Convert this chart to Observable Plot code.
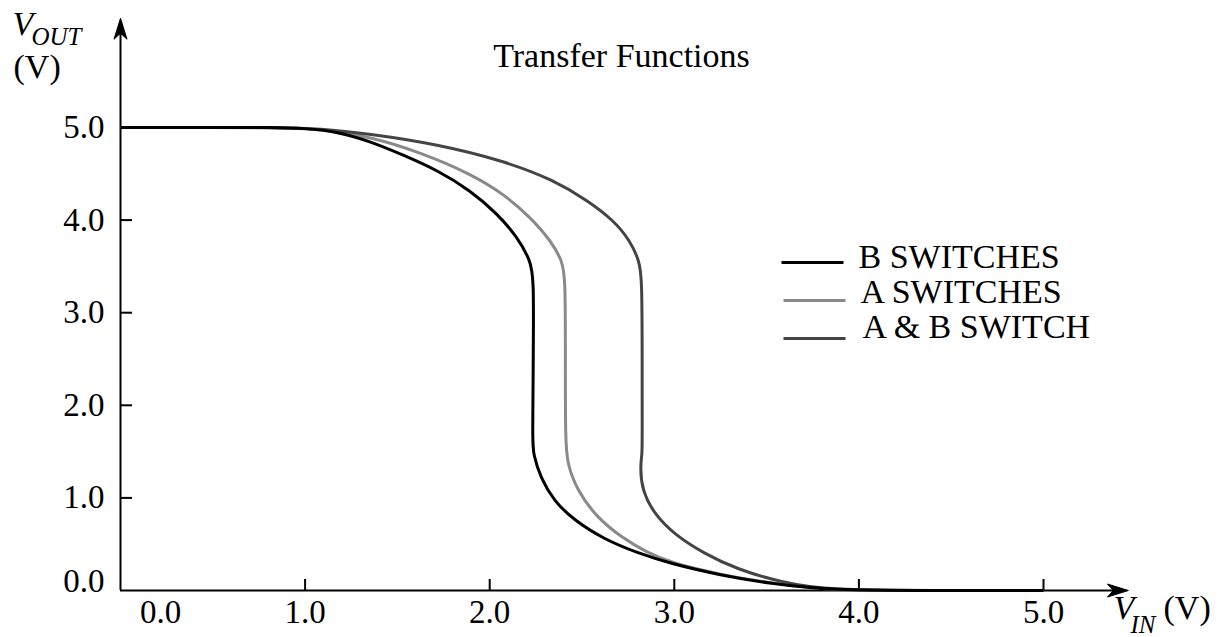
<!DOCTYPE html>
<html>
<head>
<meta charset="utf-8">
<script src="https://cdn.jsdelivr.net/npm/d3@7"></script>
<script src="https://cdn.jsdelivr.net/npm/@observablehq/plot@0.6"></script>
<style>
  html, body { margin: 0; padding: 0; background: #fff; }
</style>
</head>
<body>
<div id="chart"></div>
<script>
// NAND gate voltage transfer curves: output voltage against input voltage
const series = ["B SWITCHES", "A SWITCHES", "A & B SWITCH"];
const seriesColors = ["#000000", "#8a8a8a", "#444444"];

// B switches
const bVin  = [0, 0.5, 0.82, 1.0, 1.174, 1.354, 1.535, 1.715, 1.896, 2.04, 2.149, 2.221, 2.239, 2.236, 2.232, 2.235, 2.275, 2.347, 2.456, 2.618, 2.80, 2.98, 3.25, 3.52, 3.846, 4.4, 5.0];
const bVout = [5, 5, 5, 4.993, 4.955, 4.85, 4.70, 4.54, 4.32, 4.07, 3.82, 3.56, 3.38, 2.5, 1.62, 1.48, 1.22, 0.97, 0.76, 0.555, 0.405, 0.29, 0.165, 0.075, 0, 0, 0];

// A switches
const aVin  = [0, 0.5, 0.84, 1.08, 1.354, 1.625, 1.896, 2.077, 2.221, 2.33, 2.393, 2.41, 2.41, 2.41, 2.42, 2.474, 2.58, 2.71, 2.853, 2.98, 3.25, 3.52, 3.846, 4.4, 5.0];
const aVout = [5, 5, 5, 4.985, 4.90, 4.73, 4.50, 4.28, 4.03, 3.78, 3.56, 3.38, 2.5, 1.62, 1.37, 1.08, 0.79, 0.58, 0.41, 0.30, 0.17, 0.08, 0, 0, 0];

// A and B switch together
const abVin  = [0, 0.5, 0.84, 1.08, 1.354, 1.715, 2.077, 2.35, 2.53, 2.67, 2.76, 2.81, 2.825, 2.826, 2.826, 2.826, 2.815, 2.826, 2.89, 2.997, 3.16, 3.34, 3.575, 3.846, 4.4, 5.0];
const abVout = [5, 5, 5, 4.99, 4.93, 4.82, 4.64, 4.43, 4.21, 4.0, 3.78, 3.56, 3.38, 2.5, 1.62, 1.48, 1.33, 1.08, 0.83, 0.61, 0.40, 0.23, 0.09, 0, 0, 0];

const tickValues = [1, 2, 3, 4, 5];
const zeroTickLabel = "0.0";
const axisTop = 6.18;    // end of the V_OUT arrow, in volts
const axisRight = 5.46;  // end of the V_IN arrow, in volts

// Drawn back to front so the black curve sits on top where they merge
const curves = [
  {name: "A SWITCHES", vin: aVin, vout: aVout},
  {name: "A & B SWITCH", vin: abVin, vout: abVout},
  {name: "B SWITCHES", vin: bVin, vout: bVout}
];
const table = curves.flatMap(c => c.vin.map((v, i) => ({series: c.name, vin: v, vout: c.vout[i]})));

// Filled arrowhead pointing up, tip at the origin
const arrowHead = {
  draw(ctx) {
    ctx.moveTo(0, 0);
    ctx.lineTo(6.5, 21);
    ctx.lineTo(0, 15);
    ctx.lineTo(-6.5, 21);
    ctx.closePath();
  }
};
// Short horizontal stroke for legend keys
const legendKey = {
  draw(ctx) {
    ctx.moveTo(0, 0);
    ctx.lineTo(62, 0);
  }
};

const fmt = d3.format(".1f");
const serif = "'Liberation Serif', 'Times New Roman', serif";

const legendMarks = series.flatMap((name, i) => [
  Plot.dot([name], {
    frameAnchor: "top-left", dx: 661 + (i ? 2 : 0), dy: 135 + i * 38,
    symbol: legendKey, stroke: seriesColors[i], strokeWidth: 3, fill: "none"
  }),
  Plot.text([name], {
    frameAnchor: "top-left", dx: 738 + i * 2, dy: 140 + i * 35,
    text: d => d, textAnchor: "start", lineAnchor: "bottom", fontSize: 34, fill: "#000"
  })
]);

const annot = (label, dx, dy, extra = {}) => Plot.text([label], {
  frameAnchor: "top-left", dx, dy, text: d => d,
  textAnchor: "start", lineAnchor: "bottom", fontSize: 34, fill: "#000", ...extra
});

const chart = Plot.plot({
  width: 1225,
  height: 637,
  marginLeft: 120,
  marginRight: 182,
  marginTop: 127,
  marginBottom: 47,
  style: {fontFamily: serif, fontSize: "33px", background: "#fff", color: "#000"},
  x: {domain: [0, 5], label: null},
  y: {domain: [0, 5], label: null},
  color: {domain: series, range: seriesColors},
  marks: [
    // axis lines with arrowheads
    Plot.ruleX([0], {y1: 0, y2: axisTop - 0.12, strokeWidth: 2, stroke: "#000"}),
    Plot.ruleY([0], {x1: 0, x2: axisRight - 0.06, strokeWidth: 2, stroke: "#000"}),
    Plot.dot([0], {x: 0, y: axisTop, symbol: arrowHead, fill: "#000", stroke: "#000", strokeWidth: 1}),
    Plot.dot([0], {x: axisRight, y: 0, symbol: arrowHead, rotate: 90, fill: "#000", stroke: "#000", strokeWidth: 1}),

    // inward tick marks
    Plot.axisX(tickValues, {tickSize: -11, text: null, strokeWidth: 2, label: null}),
    Plot.axisY(tickValues, {tickSize: -12, text: null, strokeWidth: 2, label: null}),
    // tick labels
    Plot.axisX(tickValues, {tickSize: 0, tickPadding: 9, tickFormat: fmt, fontSize: 33, label: null}),
    Plot.axisY(tickValues, {tickSize: 0, tickPadding: 16, tickFormat: fmt, fontSize: 33, label: null}),
    Plot.text([0], {x: 0, y: 0, text: () => zeroTickLabel, dx: 40, dy: 9, lineAnchor: "top", fontSize: 33}),
    Plot.text([0], {x: 0, y: 0, text: () => zeroTickLabel, dx: -16, dy: -9, textAnchor: "end", fontSize: 33}),

    // transfer curves (B-spline through the read-off points smooths reading jitter)
    Plot.line(table, {
      x: "vin", y: "vout", z: "series", stroke: "series",
      strokeWidth: 3, curve: "basis", strokeLinejoin: "round", strokeLinecap: "butt"
    }),

    // title
    Plot.text(["Transfer Functions"], {
      frameAnchor: "top-left", dx: 501, dy: -61, text: d => d,
      textAnchor: "middle", lineAnchor: "bottom", fontSize: 34, fill: "#000"
    }),

    // axis titles
    annot("V", -108, -93, {fontStyle: "italic"}),
    annot("OUT", -89, -83, {fontStyle: "italic", fontSize: 25}),
    annot("(V)", -107, -50),
    annot("V", 993, 491, {fontStyle: "italic"}),
    annot("IN", 1010, 505, {fontStyle: "italic", fontSize: 25}),
    annot("(V)", 1043, 491),

    ...legendMarks
  ]
});

document.getElementById("chart").appendChild(chart);
</script>
</body>
</html>
